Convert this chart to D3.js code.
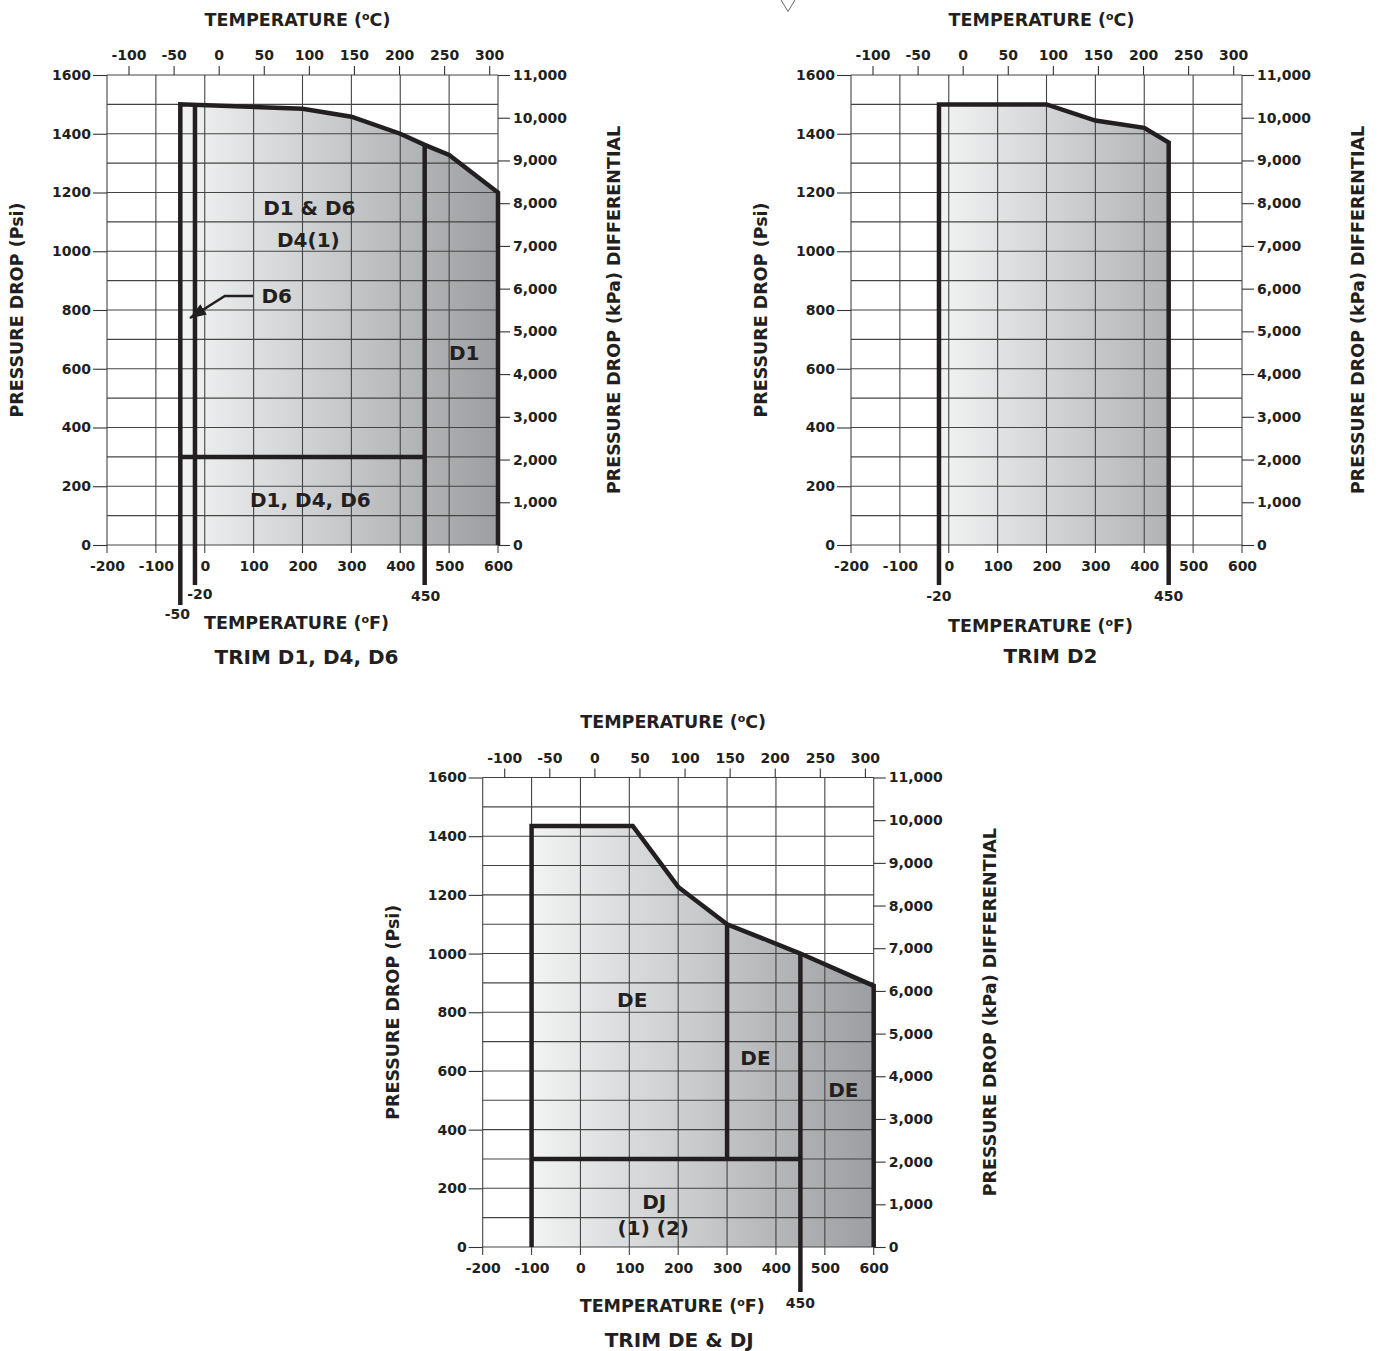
<!DOCTYPE html>
<html>
<head>
<meta charset="utf-8">
<script src="https://cdn.jsdelivr.net/npm/d3@7"></script>
<style>
body { margin: 0; background: #fff; }
svg text { font-family: "DejaVu Sans", sans-serif; font-weight: bold; fill: #231f20; }
.tick text { font-size: 14px; }
.tick line { stroke: #333; stroke-width: 1.1; }
.title { font-size: 17.5px; }
.trim { font-size: 20px; }
.region { font-size: 20px; }
.limit { font-size: 14px; }
</style>
</head>
<body>
<svg id="canvas" width="1382" height="1351"></svg>
<script>
// axis ticks
let fahrenheitTicks = [-200, -100, 0, 100, 200, 300, 400, 500, 600]
let celsiusTicks = [-100, -50, 0, 50, 100, 150, 200, 250, 300]
let psiTicks = [0, 200, 400, 600, 800, 1000, 1200, 1400, 1600]
let psiGrid = [0, 100, 200, 300, 400, 500, 600, 700, 800, 900, 1000, 1100, 1200, 1300, 1400, 1500, 1600]
let kpaTicks = [0, 1000, 2000, 3000, 4000, 5000, 6000, 7000, 8000, 9000, 10000, 11000]

// TRIM D1, D4, D6 envelope (°F, psi)
let d1Temp = [-50, 200, 300, 400, 450, 500, 600]
let d1Psi = [1500, 1485, 1458, 1400, 1362, 1328, 1200]
let d1VertTemp = [-20, 450]
let d1VertTop = [1500, 1362]
let d1SplitTemp = [-50, 450]
let d1SplitPsi = 300
let d1Labels = ['D1 & D6', 'D4(1)', 'D1', 'D1, D4, D6']
let d1LabelTemp = [214, 212, 531, 216]
let d1LabelPsi = [1123, 1014, 630, 130]
let d1LimitLabels = ['-50', '-20', '450']

// TRIM D2 envelope
let d2Temp = [-20, 200, 300, 400, 450]
let d2Psi = [1500, 1500, 1445, 1420, 1370]
let d2LimitLabels = ['-20', '450']

// TRIM DE & DJ envelope
let deTemp = [-100, 107, 200, 300, 450, 600]
let dePsi = [1435, 1435, 1227, 1100, 1000, 890]
let deVertTemp = [300, 450]
let deVertTop = [1100, 1000]
let deVertBottom = [300, 0]
let deSplitTemp = [-100, 450]
let deSplitPsi = 300
let deLabels = ['DE', 'DE', 'DE', 'DJ', '(1) (2)']
let deLabelTemp = [106, 358, 538, 151, 149]
let deLabelPsi = [819, 621, 512, 130, 41]
let deLimitLabels = ['450']

let canvas = d3.select('#canvas')
let defs = canvas.append('defs')

defs.append('marker')
    .attr('id', 'arrowhead')
    .attr('markerUnits', 'userSpaceOnUse')
    .attr('markerWidth', 18).attr('markerHeight', 14)
    .attr('viewBox', '0 -7 18 14')
    .attr('refX', 16).attr('refY', 0)
    .attr('orient', 'auto')
    .append('path')
    .attr('d', 'M0,-6 L17,0 L0,6 Z')
    .attr('fill', '#231f20')

let ink = '#231f20'
let plain = (d) => String(d)

let drawChart = (cfg) => {
    let x = d3.scaleLinear().domain([-200, 600]).range([cfg.left, cfg.left + 391])
    let y = d3.scaleLinear().domain([0, 1600]).range([cfg.top + cfg.height, cfg.top])
    let yKpa = d3.scaleLinear().domain([0, 11000]).range([cfg.top + cfg.height, cfg.top])
    // the printed celsius scale is slightly stretched against the °F grid
    let cel = d3.scaleLinear().domain([-100, 300]).range([x(-156), x(582)])

    let g = canvas.append('g')
    let midX = (x(-200) + x(600)) / 2
    let base = y(0)

    // shaded envelope
    let gradId = 'grad' + cfg.id
    let grad = defs.append('linearGradient')
        .attr('id', gradId)
        .attr('gradientUnits', 'userSpaceOnUse')
        .attr('x1', x(cfg.temp[0])).attr('x2', x(600))
        .attr('y1', 0).attr('y2', 0)
    grad.append('stop').attr('offset', 0).attr('stop-color', '#f2f3f3')
    grad.append('stop').attr('offset', 1).attr('stop-color', '#9c9ea1')

    let points = cfg.temp.map((t, i) => [t, cfg.psi[i]])
    let area = d3.area()
        .x(d => x(d[0]))
        .y0(base)
        .y1(d => y(d[1]))
    g.append('path').attr('d', area(points)).attr('fill', `url(#${gradId})`)

    // grid
    g.append('g').selectAll('line')
        .data(psiGrid)
        .join('line')
        .attr('x1', x(-200)).attr('x2', x(600))
        .attr('y1', d => y(d)).attr('y2', d => y(d))
        .attr('stroke', '#444').attr('stroke-width', 1.1)
    g.append('g').selectAll('line')
        .data(fahrenheitTicks)
        .join('line')
        .attr('x1', d => x(d)).attr('x2', d => x(d))
        .attr('y1', y(1600)).attr('y2', base + 8)
        .attr('stroke', '#444').attr('stroke-width', 1.1)

    // axes
    g.append('g')
        .attr('transform', `translate(${x(-200)},0)`)
        .call(d3.axisLeft(y).tickValues(psiTicks).tickSize(14).tickPadding(2).tickFormat(plain))
        .call(a => a.select('.domain').remove())
    g.append('g')
        .attr('transform', `translate(${x(600)},0)`)
        .call(d3.axisRight(yKpa).tickValues(kpaTicks).tickSize(12).tickPadding(3).tickFormat(d3.format(',')))
        .call(a => a.select('.domain').remove())
    g.append('g')
        .attr('transform', `translate(0,${base})`)
        .call(d3.axisBottom(x).tickValues(fahrenheitTicks).tickSize(0).tickPadding(16).tickFormat(plain))
        .call(a => a.select('.domain').remove())
    g.append('g')
        .attr('transform', `translate(0,${y(1600)})`)
        .call(d3.axisTop(cel).tickValues(celsiusTicks).tickSize(9).tickPadding(6).tickFormat(plain))
        .call(a => a.select('.domain').remove())

    // titles
    let topTitle = g.append('text').attr('class', 'title')
        .attr('x', midX - 5).attr('y', y(1600) - 49.5)
        .attr('text-anchor', 'middle')
    topTitle.append('tspan').text('TEMPERATURE (')
    topTitle.append('tspan').attr('font-size', '11px').attr('dy', -6).text('o')
    topTitle.append('tspan').attr('dy', 6).text('C)')

    let botTitle = g.append('text').attr('class', 'title')
        .attr('x', midX - 6).attr('y', base + cfg.fTitleGap)
        .attr('text-anchor', 'middle')
    botTitle.append('tspan').text('TEMPERATURE (')
    botTitle.append('tspan').attr('font-size', '11px').attr('dy', -6).text('o')
    botTitle.append('tspan').attr('dy', 6).text('F)')

    g.append('text').attr('class', 'trim')
        .attr('x', midX + cfg.trimDx).attr('y', base + cfg.trimGap)
        .attr('text-anchor', 'middle')
        .text(cfg.trim)

    let midY = (y(0) + y(1600)) / 2
    g.append('text').attr('class', 'title')
        .attr('transform', `translate(${x(-200) - 84},${midY}) rotate(-90)`)
        .attr('text-anchor', 'middle')
        .text('PRESSURE DROP (Psi)')
    g.append('text').attr('class', 'title')
        .attr('transform', `translate(${x(600) + 122},${midY}) rotate(-90)`)
        .attr('text-anchor', 'middle')
        .text('PRESSURE DROP (kPa) DIFFERENTIAL')

    // heavy boundary lines
    let line = d3.line()
    let thick = (pts) => g.append('path')
        .attr('d', line(pts))
        .attr('fill', 'none')
        .attr('stroke', ink)
        .attr('stroke-width', 4.5)
        .attr('stroke-linejoin', 'miter')

    let first = cfg.temp[0]
    let last = cfg.temp[cfg.temp.length - 1]
    let outline = [[x(first), base + cfg.leftDrop]]
    points.forEach(p => outline.push([x(p[0]), y(p[1])]))
    outline.push([x(last), base + cfg.rightDrop])
    thick(outline)

    ;(cfg.vertTemp || []).forEach((t, i) => {
        let bottom = cfg.vertBottom ? y(cfg.vertBottom[i]) : base
        thick([[x(t), y(cfg.vertTop[i])], [x(t), bottom + cfg.vertDrop[i]]])
    })
    if (cfg.splitTemp) {
        thick([[x(cfg.splitTemp[0]), y(cfg.splitPsi)], [x(cfg.splitTemp[1]), y(cfg.splitPsi)]])
    }

    // limit values under the lines
    cfg.limitLabels.forEach((lab, i) => {
        g.append('text').attr('class', 'limit')
            .attr('x', x(+lab) + cfg.limitDx[i])
            .attr('y', base + cfg.limitGap[i])
            .attr('text-anchor', 'middle')
            .text(lab)
    })

    // region labels
    ;(cfg.labels || []).forEach((lab, i) => {
        g.append('text').attr('class', 'region')
            .attr('x', x(cfg.labelTemp[i]))
            .attr('y', y(cfg.labelPsi[i]))
            .attr('text-anchor', 'middle')
            .text(lab)
    })

    return { x, y, g }
}

let c1 = drawChart({
    id: 1, left: 107, top: 75, height: 470,
    temp: d1Temp, psi: d1Psi,
    leftDrop: 60, rightDrop: 0,
    vertTemp: d1VertTemp, vertTop: d1VertTop, vertDrop: [40, 40],
    splitTemp: d1SplitTemp, splitPsi: d1SplitPsi,
    labels: d1Labels, labelTemp: d1LabelTemp, labelPsi: d1LabelPsi,
    limitLabels: d1LimitLabels, limitDx: [-3, 5, 1], limitGap: [74, 54, 56],
    fTitleGap: 84, trimGap: 119, trimDx: 4,
    trim: 'TRIM D1, D4, D6'
})

// D6 pointer into the narrow -50 / -20 strip
c1.g.append('path')
    .attr('d', d3.line()([[c1.x(99), c1.y(848)], [c1.x(41), c1.y(848)], [c1.x(-30), c1.y(773)]]))
    .attr('fill', 'none')
    .attr('stroke', ink)
    .attr('stroke-width', 2.5)
    .attr('marker-end', 'url(#arrowhead)')
c1.g.append('text').attr('class', 'region')
    .attr('x', c1.x(116)).attr('y', c1.y(825))
    .text('D6')

drawChart({
    id: 2, left: 851, top: 75, height: 470,
    temp: d2Temp, psi: d2Psi,
    leftDrop: 40, rightDrop: 40,
    limitLabels: d2LimitLabels, limitDx: [0, 0], limitGap: [56, 56],
    fTitleGap: 87, trimGap: 118, trimDx: 4,
    trim: 'TRIM D2'
})

drawChart({
    id: 3, left: 482.7, top: 777.5, height: 469.5,
    temp: deTemp, psi: dePsi,
    leftDrop: 0, rightDrop: 0,
    vertTemp: deVertTemp, vertTop: deVertTop, vertBottom: deVertBottom, vertDrop: [0, 45],
    splitTemp: deSplitTemp, splitPsi: deSplitPsi,
    labels: deLabels, labelTemp: deLabelTemp, labelPsi: deLabelPsi,
    limitLabels: deLimitLabels, limitDx: [0], limitGap: [61],
    fTitleGap: 65, trimGap: 100, trimDx: 1,
    trim: 'TRIM DE & DJ'
})

// small scan mark at the top edge
canvas.append('path')
    .attr('d', 'M781,0 L788,11.5 L795,0')
    .attr('fill', 'none')
    .attr('stroke', '#666')
    .attr('stroke-width', 1)
</script>
</body>
</html>
